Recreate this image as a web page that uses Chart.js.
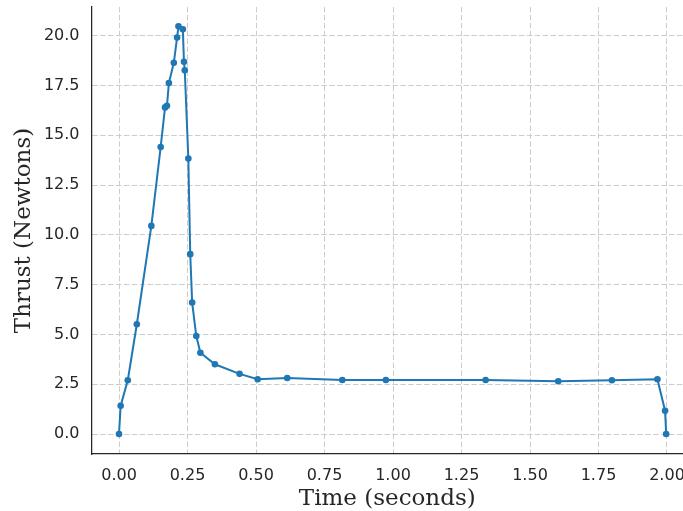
<!DOCTYPE html>
<html>
<head>
<meta charset="utf-8">
<script src="https://cdn.jsdelivr.net/npm/chart.js@4/dist/chart.umd.min.js"></script>
<style>
  html, body { margin: 0; padding: 0; background: #fff; overflow: hidden; }
</style>
</head>
<body>
<canvas id="thrust" width="683" height="511"></canvas>
<script>
'use strict';

// thrust curve
var timeSec = [0, 0.006, 0.032, 0.065, 0.118, 0.152, 0.168, 0.175, 0.182, 0.200, 0.212, 0.217,
  0.233, 0.237, 0.240, 0.253, 0.260, 0.267, 0.282, 0.297, 0.350, 0.440, 0.506, 0.614,
  0.815, 0.974, 1.338, 1.603, 1.799, 1.965, 1.993, 1.997];
var thrustN = [0, 1.42, 2.70, 5.51, 10.45, 14.41, 16.40, 16.48, 17.62, 18.64, 19.91, 20.47,
  20.32, 18.69, 18.26, 13.83, 9.03, 6.60, 4.92, 4.08, 3.50, 3.02, 2.75, 2.81,
  2.71, 2.71, 2.71, 2.65, 2.70, 2.75, 1.17, 0];
var xTicks = [0, 0.25, 0.5, 0.75, 1.0, 1.25, 1.5, 1.75, 2.0];
var yTicks = [0, 2.5, 5, 7.5, 10, 12.5, 15, 17.5, 20];

var ink = '#262626';
var gridColor = '#cccccc';

var points = timeSec.map(function (t, i) { return { x: t, y: thrustN[i] }; });

new Chart(document.getElementById('thrust').getContext('2d'), {
  type: 'line',
  data: {
    datasets: [{
      data: points,
      borderColor: '#1f77b4',
      backgroundColor: '#1f77b4',
      borderWidth: 2,
      pointRadius: 3.3,
      pointBorderWidth: 0,
      pointBackgroundColor: '#1f77b4',
      tension: 0,
      clip: false
    }]
  },
  options: {
    responsive: false,
    animation: false,
    devicePixelRatio: 1,
    layout: { autoPadding: false, padding: { top: 7, right: 0, bottom: 0, left: 0 } },
    plugins: { legend: { display: false }, tooltip: { enabled: false } },
    scales: {
      x: {
        type: 'linear',
        min: -0.1004,
        max: 2.0584,
        afterBuildTicks: function (scale) {
          scale.ticks = xTicks.map(function (v) { return { value: v }; });
        },
        afterFit: function (scale) {
          scale.height = 57;
          scale.paddingLeft = 0;
          scale.paddingRight = 0;
        },
        grid: { color: gridColor, lineWidth: 1, drawTicks: false },
        border: { display: true, color: ink, width: 1.25, dash: [5.5, 2.4] },
        ticks: {
          autoSkip: false,
          maxRotation: 0,
          padding: 12,
          color: ink,
          font: { family: 'DejaVu Sans', size: 16 },
          callback: function (v) { return Number(v).toFixed(2); }
        },
        title: {
          display: true,
          text: 'Time (seconds)',
          color: ink,
          font: { family: 'DejaVu Serif', size: 23 },
          padding: { top: 0, bottom: -2 }
        }
      },
      y: {
        type: 'linear',
        min: -1.004,
        max: 21.44,
        afterBuildTicks: function (scale) {
          scale.ticks = yTicks.map(function (v) { return { value: v }; });
        },
        afterFit: function (scale) {
          scale.width = 91.5;
          scale.paddingTop = 0;
          scale.paddingBottom = 0;
        },
        grid: { color: gridColor, lineWidth: 1, drawTicks: false },
        border: { display: true, color: ink, width: 1.25, dash: [5.5, 2.4] },
        ticks: {
          autoSkip: false,
          padding: 12,
          color: ink,
          font: { family: 'DejaVu Sans', size: 16 },
          callback: function (v) { return Number(v).toFixed(1); }
        },
        title: {
          display: true,
          text: 'Thrust (Newtons)',
          color: ink,
          font: { family: 'DejaVu Serif', size: 23 },
          padding: { top: 10, bottom: 0 }
        }
      }
    }
  }
});
</script>
</body>
</html>
